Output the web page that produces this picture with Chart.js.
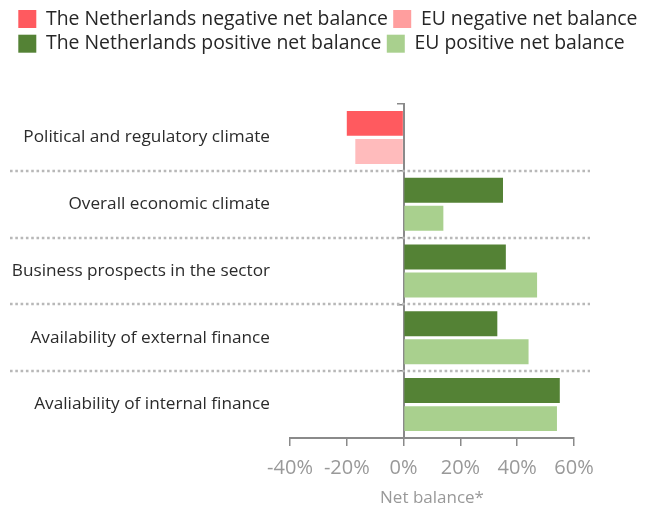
<!DOCTYPE html>
<html>
<head>
<meta charset="utf-8">
<script src="https://cdn.jsdelivr.net/npm/chart.js@4"></script>
<style>
  html, body { margin: 0; padding: 0; background: #fff; }
  #wrap { width: 648px; height: 511px; }
</style>
</head>
<body>
<div id="wrap"><canvas id="balanceChart"></canvas></div>
<script>
// Data
const categories = [
    'Political and regulatory climate',
    'Overall economic climate',
    'Business prospects in the sector',
    'Availability of external finance',
    'Avaliability of internal finance'
];
const nlValues = [-20, 35, 36, 33, 55];
const euValues = [-17, 14, 47, 44, 54];
const xTicks = [-40, -20, 0, 20, 40, 60];
const legendLabels = [
    'The Netherlands negative net balance',
    'EU negative net balance',
    'The Netherlands positive net balance',
    'EU positive net balance'
];

const colors = {
    nlNeg: '#FF5A5F',
    euNeg: '#FFBBBC',
    euNegLegend: '#FF9E9E',
    nlPos: '#548235',
    euPos: '#A9D08E'
};
const axisGray = '#8a8a8a';
const font = 'Open Sans';

// dotted separators between the categories, wider than the plot area
const separators = {
    id: 'separators',
    beforeDatasetsDraw(chart) {
        const y = chart.scales.y;
        const ctx = chart.ctx;
        ctx.save();
        ctx.strokeStyle = '#b8b8b8';
        ctx.lineWidth = 2.5;
        ctx.setLineDash([2.6, 2.7]);
        for (let i = 1; i < categories.length; i++) {
            const py = Math.round((y.getPixelForValue(i - 1) + y.getPixelForValue(i)) / 2);
            ctx.beginPath();
            ctx.moveTo(10, py);
            ctx.lineTo(590, py);
            ctx.stroke();
        }
        ctx.restore();
    }
};

// more room under the legend
const legendGap = {
    id: 'legendGap',
    beforeInit(chart) {
        const fit = chart.legend.fit;
        chart.legend.fit = function () {
            fit.bind(chart.legend)();
            this.height = 100;
        };
    }
};

new Chart(document.getElementById('balanceChart'), {
    type: 'bar',
    data: {
        labels: categories,
        datasets: [{
            label: 'The Netherlands',
            data: nlValues,
            backgroundColor: c => c.raw < 0 ? colors.nlNeg : colors.nlPos,
            categoryPercentage: 0.84,
            barPercentage: 0.89
        }, {
            label: 'EU',
            data: euValues,
            backgroundColor: c => c.raw < 0 ? colors.euNeg : colors.euPos,
            categoryPercentage: 0.84,
            barPercentage: 0.89
        }]
    },
    options: {
        indexAxis: 'y',
        responsive: true,
        maintainAspectRatio: false,
        animation: false,
        layout: {
            padding: { top: 4, left: 13, right: 0, bottom: 0 }
        },
        plugins: {
            tooltip: { enabled: false },
            legend: {
                position: 'top',
                align: 'start',
                onClick: null,
                labels: {
                    boxWidth: 18,
                    boxHeight: 18,
                    padding: 5.3,
                    color: '#262626',
                    font: { family: font, size: 19.4 },
                    generateLabels: () => {
                        const fills = [colors.nlNeg, colors.euNegLegend, colors.nlPos, colors.euPos];
                        return legendLabels.map((text, i) => ({
                            text: text,
                            fillStyle: fills[i],
                            strokeStyle: fills[i],
                            lineWidth: 0,
                            hidden: false,
                            fontColor: '#262626'
                        }));
                    }
                }
            }
        },
        scales: {
            x: {
                type: 'linear',
                min: xTicks[0],
                max: xTicks[xTicks.length - 1],
                afterFit: s => { s.height = 73; },
                ticks: {
                    stepSize: 20,
                    padding: 10,
                    color: '#999999',
                    font: { family: font, size: 20 },
                    callback: v => v + '%'
                },
                grid: {
                    drawOnChartArea: false,
                    color: axisGray,
                    lineWidth: 1.5,
                    tickLength: 8
                },
                border: { display: true, color: axisGray, width: 2 },
                title: {
                    display: true,
                    text: 'Net balance*',
                    color: '#999999',
                    font: { family: font, size: 17 },
                    padding: { top: 0, bottom: 3 }
                }
            },
            y: {
                type: 'category',
                position: 'left',
                offset: true,
                clip: false,
                afterFit: s => { s.width = 277; },
                ticks: {
                    padding: 20,
                    color: '#2b2b2b',
                    font: { family: font, size: 17.2 }
                },
                grid: { display: false, drawTicks: false },
                border: { display: false }
            },
            yZero: {
                type: 'category',
                axis: 'y',
                position: { x: 0 },
                offset: true,
                ticks: { display: false },
                grid: {
                    offset: true,
                    drawOnChartArea: false,
                    color: axisGray,
                    lineWidth: 1.5,
                    tickLength: 6
                },
                border: { display: true, color: axisGray, width: 2 }
            },
            yRight: {
                type: 'category',
                axis: 'y',
                position: 'right',
                display: true,
                afterFit: s => { s.width = 74; },
                ticks: { display: false },
                grid: { display: false, drawTicks: false },
                border: { display: false }
            }
        }
    },
    plugins: [separators, legendGap]
});
</script>
</body>
</html>
